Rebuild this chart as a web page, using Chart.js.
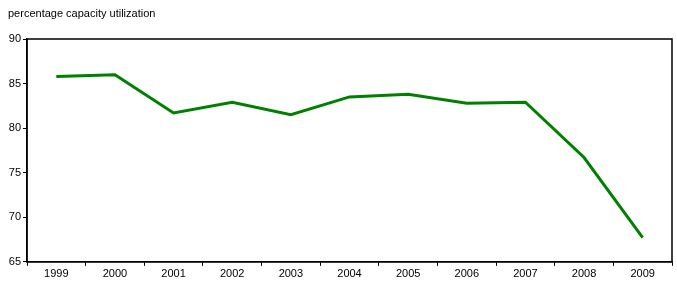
<!DOCTYPE html>
<html>
<head>
<meta charset="utf-8">
<script src="https://cdn.jsdelivr.net/npm/chart.js@4/dist/chart.umd.min.js"></script>
<style>
  html, body { margin: 0; padding: 0; background: #fff; }
  #wrap { width: 677px; height: 289px; }
</style>
</head>
<body>
<div id="wrap"><canvas id="capChart"></canvas></div>
<script>
const years = ['1999', '2000', '2001', '2002', '2003', '2004', '2005', '2006', '2007', '2008', '2009'];
const utilization = [85.8, 86.0, 81.7, 82.9, 81.5, 83.5, 83.8, 82.8, 82.9, 76.7, 67.7];
const yTicks = [65, 70, 75, 80, 85, 90];
const unitLabel = 'percentage capacity utilization';

Chart.defaults.font.family = '"Liberation Sans", Arial, sans-serif';
Chart.defaults.font.size = 11;
Chart.defaults.color = '#000';

// box around the plot area (top and right sides too) + unit label top left
const frame = {
    id: 'frame',
    afterDraw(chart) {
        const a = chart.chartArea;
        const c = chart.ctx;
        c.save();
        c.strokeStyle = '#000';
        c.lineWidth = 1.5;
        c.strokeRect(a.left, a.top, a.right - a.left, a.bottom - a.top);
        c.fillStyle = '#000';
        c.font = '11px "Liberation Sans", Arial, sans-serif';
        c.textBaseline = 'middle';
        c.textAlign = 'left';
        c.fillText(unitLabel, 8, 14);
        c.restore();
    }
};

const ctx = document.getElementById('capChart').getContext('2d');
const capChart = new Chart(ctx, {
    type: 'line',
    data: {
        labels: years,
        datasets: [{
            label: unitLabel,
            data: utilization,
            borderColor: '#008000',
            borderWidth: 3,
            pointRadius: 0,
            tension: 0,
            fill: false
        }]
    },
    options: {
        responsive: true,
        maintainAspectRatio: false,
        animation: false,
        layout: { padding: { left: 0, right: 5, top: 39, bottom: 6 } },
        plugins: {
            legend: { display: false },
            tooltip: { enabled: false },
            title: { display: false }
        },
        scales: {
            x: {
                offset: true,
                grid: {
                    offset: true,
                    drawOnChartArea: false,
                    tickLength: 4,
                    color: '#000'
                },
                border: { color: '#000', width: 1.5 },
                ticks: { padding: 2, maxRotation: 0, autoSkip: false }
            },
            y: {
                min: 65,
                max: 90,
                afterBuildTicks(scale) {
                    scale.ticks = yTicks.map(v => ({ value: v }));
                },
                afterFit(scale) {
                    scale.width = 27;
                },
                grid: {
                    drawOnChartArea: false,
                    tickLength: 4,
                    color: '#000'
                },
                border: { color: '#000', width: 1.5 },
                ticks: { padding: 2 }
            }
        }
    },
    plugins: [frame]
});
</script>
</body>
</html>
